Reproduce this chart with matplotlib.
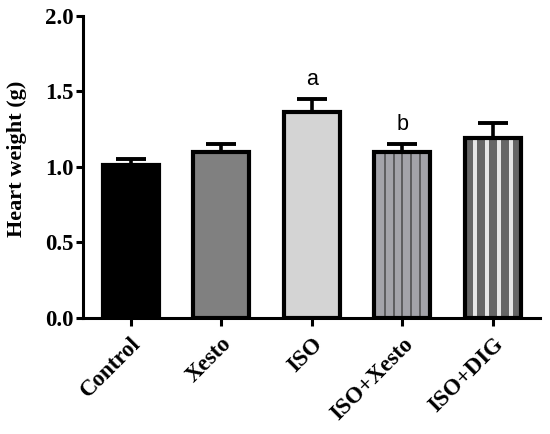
import matplotlib
matplotlib.use("Agg")
import matplotlib.pyplot as plt
import numpy as np

groups = ["Control", "Xesto", "ISO", "ISO+Xesto", "ISO+DIG"]
means = [1.015, 1.10, 1.365, 1.10, 1.19]
sems = [0.04, 0.05, 0.085, 0.05, 0.10]
letters = ["", "", "a", "b", ""]
y_ticks = [0.0, 0.5, 1.0, 1.5, 2.0]

fills = ["#000000", "#808080", "#d4d4d4", "#a3a3a9", "#666666"]

SERIF = "Liberation Serif"
SANS = "Liberation Sans"

fig = plt.figure(figsize=(5.5, 4.34), dpi=100)
ax = fig.add_axes([0.151, 0.267, 0.831, 0.697])

x = np.arange(len(groups))
width = 0.616
edge_lw = 3.0

# error bars (upper only), drawn behind bars
ax.errorbar(x, means, yerr=[np.zeros(len(sems)), sems], fmt="none",
            ecolor="black", elinewidth=2.6, capsize=10.5, capthick=2.8, zorder=1)

ax.bar(x, means, width=width, color=fills, edgecolor="none", zorder=2)

# ISO+Xesto: thin dark vertical lines
i = groups.index("ISO+Xesto")
line_x = x[i] + np.array([-2, -1, 0, 1, 2]) * 0.098
ax.vlines(line_x, 0, means[i], colors="#4a4a4a", linewidth=1.1, zorder=3)

# ISO+DIG: light stripes on dark fill
j = groups.index("ISO+DIG")
stripe_x = x[j] + np.array([-0.201, -0.066, 0.066, 0.201])
ax.bar(stripe_x, [means[j]] * len(stripe_x), width=0.047, color="#e6e6e6",
       edgecolor="none", zorder=3)

# outlines
ax.bar(x, means, width=width, facecolor="none", edgecolor="black",
       linewidth=edge_lw, zorder=4)

for xi, m, s, lab in zip(x, means, sems, letters):
    if lab:
        ax.annotate(lab, (xi, m + s), xytext=(0, 10), textcoords="offset points",
                    ha="center", va="baseline", fontsize=15.5, family=SANS)

ax.set_xlim(-0.525, len(groups) - 0.48)
ax.set_ylim(0, 2.0)
ax.set_yticks(y_ticks)
ax.set_yticklabels([f"{t:.1f}" for t in y_ticks], fontsize=16.5,
                   fontweight="bold", family=SERIF)
ax.set_xticks(x)
ax.set_xticklabels(groups, rotation=45, ha="right", va="top",
                   rotation_mode="anchor", fontsize=16.5, fontweight="bold",
                   family=SERIF)
ax.set_ylabel("Heart weight (g)", fontsize=16, fontweight="bold", family=SERIF)
ax.yaxis.set_label_coords(-0.122, 0.528)

for side in ("top", "right"):
    ax.spines[side].set_visible(False)
for side in ("left", "bottom"):
    ax.spines[side].set_linewidth(2.2)
ax.tick_params(axis="both", width=2.2, length=5, direction="out", pad=1.5)
ax.tick_params(axis="x", length=6, pad=5)

fig.savefig("out.png", dpi=100)
